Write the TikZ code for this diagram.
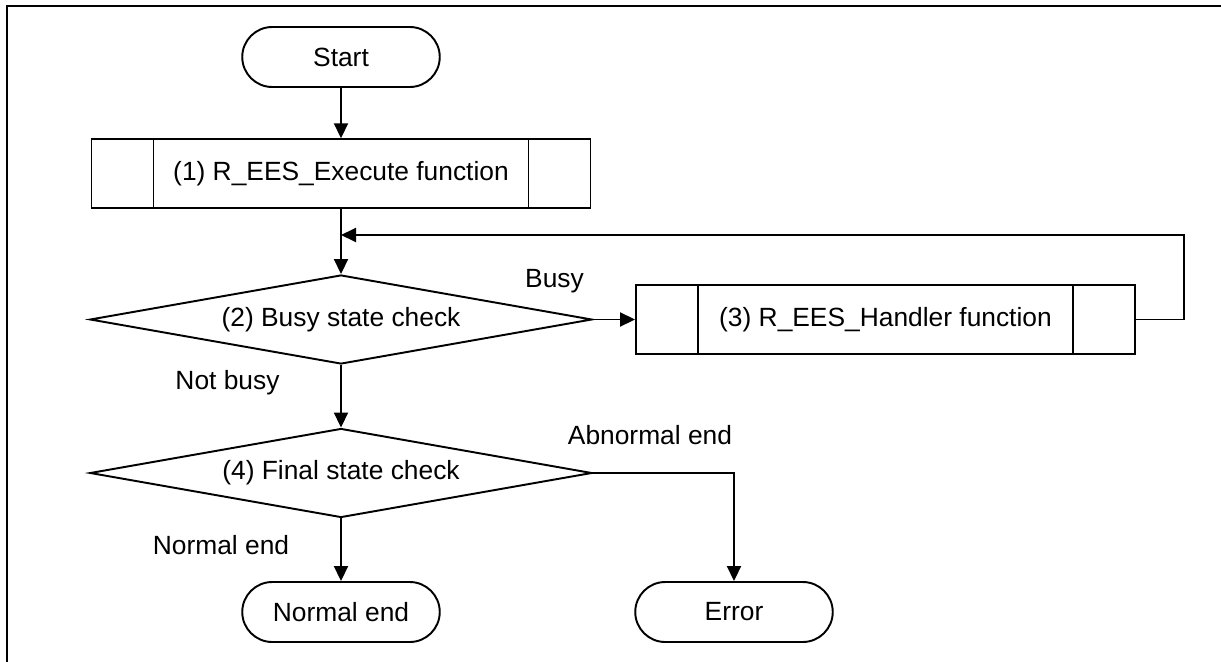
\documentclass[tikz,border=0pt]{standalone}
\usepackage{fontspec}
\setmainfont{Liberation Sans}
\usepackage{tikz}
\usetikzlibrary{arrows.meta}
\usetikzlibrary{shapes.geometric}
\tikzset{>={Triangle[length=3mm, width=2.8mm]}}
\tikzstyle{term} = [draw, rectangle, rounded corners=0.6cm, minimum width=3.95cm, minimum height=1.2cm]
\tikzstyle{subproc} = [draw, rectangle, minimum width=9.98cm, minimum height=1.37cm,
  path picture={
    \draw ([xshift=1.24cm]path picture bounding box.north west) -- ([xshift=1.24cm]path picture bounding box.south west);
    \draw ([xshift=-1.24cm]path picture bounding box.north east) -- ([xshift=-1.24cm]path picture bounding box.south east);
  }]
\tikzstyle{check} = [draw, diamond, aspect=5.6, inner sep=0, minimum width=10.04cm, minimum height=1.78cm]
\tikzstyle{lbl} = [draw=none, inner sep=0]

\begin{document}
\begin{tikzpicture}[line width=1.1pt, font=\fontsize{15}{18}\selectfont]
\useasboundingbox (0, 0) rectangle (24.42, -13.22);
% frame (cut at the right and bottom)
\draw [line width=1.5pt] (0.14, -13.3) -- (0.14, -0.12) -- (24.5, -0.12);
\node [term] (start) at (6.82, -1.14) {Start};
\node [subproc] (exe) at (6.82, -3.47) {(1) R\_EES\_Execute function};
\node [check] (busy) at (6.82, -6.39) {(2) Busy state check};
\node [subproc] (hnd) at (17.71, -6.39) {(3) R\_EES\_Handler function};
\node [check] (fin) at (6.82, -9.46) {(4) Final state check};
\node [term] (ok) at (6.82, -12.24) {Normal end};
\node [term] (err) at (14.68, -12.24) {Error};
\node [lbl] (busylbl) at (11.09, -5.62) {Busy};
\node [lbl] (idlelbl) at (4.55, -7.66) {Not busy};
\node [lbl] (abnlbl) at (13.00, -8.70) {Abnormal end};
\node [lbl] (oklbl) at (4.42, -10.90) {Normal end};
\coordinate (back) at (23.68, -4.70);
\coordinate (merge) at (6.82, -4.70);
\draw [->] (start) to (exe);
\draw [->] (exe) to (busy);
\draw [->] (busy) to (hnd);
\draw [->] (hnd.east) -| (back) -- (merge);
\draw [->] (busy) to (fin);
\draw [->] (fin) to (ok);
\draw [->] (fin.east) -| (err.north);
\end{tikzpicture}
\end{document}
